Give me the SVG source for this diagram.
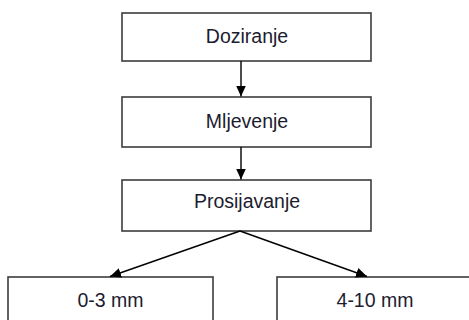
<svg xmlns="http://www.w3.org/2000/svg" width="469" height="320" viewBox="0 0 469 320">
<style>
.box{fill:#fff;stroke:#3c3c3c;stroke-width:1.6}
.lbl{font-family:"Liberation Sans",Arial,sans-serif;font-size:19.5px;fill:#1c1c30;text-anchor:middle}
.conn{stroke:#000;stroke-width:1.4;fill:none;marker-end:url(#ah)}
</style>
<defs>
<marker id="ah" markerWidth="11" markerHeight="11" refX="11" refY="5" orient="auto" markerUnits="userSpaceOnUse" viewBox="0 0 11 10">
<path d="M0,0 L11,5 L0,10 Z" fill="#000"/>
</marker>
</defs>
<rect width="469" height="320" fill="#fff"/>
<g id="doziranje"><rect class="box" x="122" y="13" width="249" height="48"/><text class="lbl" x="247" y="43">Doziranje</text></g>
<g id="mljevenje"><rect class="box" x="122" y="97" width="249" height="50"/><text class="lbl" x="247" y="128">Mljevenje</text></g>
<g id="prosijavanje"><rect class="box" x="122" y="180" width="249" height="51"/><text class="lbl" x="247" y="208">Prosijavanje</text></g>
<g id="fine"><rect class="box" x="8" y="277" width="205" height="60"/><text class="lbl" x="110.5" y="307">0-3 mm</text></g>
<g id="coarse"><rect class="box" x="277" y="277" width="200" height="60"/><text class="lbl" x="375" y="307">4-10 mm</text></g>
<g id="connectors">
<line class="conn" x1="241" y1="61" x2="241" y2="96.5"/>
<line class="conn" x1="241" y1="147" x2="241" y2="179.5"/>
<line class="conn" x1="240" y1="231" x2="110" y2="276.5"/>
<line class="conn" x1="240" y1="231" x2="367" y2="276.5"/>
</g>
</svg>
